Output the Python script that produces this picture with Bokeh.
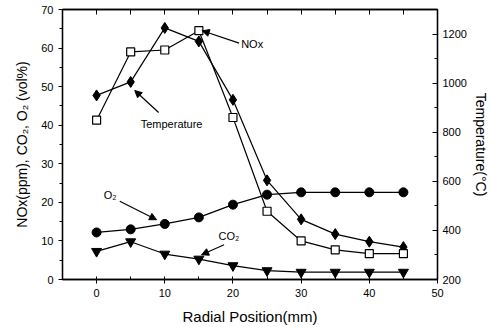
from bokeh.plotting import figure
from bokeh.models import (Range1d, LinearAxis, SingleIntervalTicker, FixedTicker, Arrow, NormalHead,
                          Label, ColumnDataSource)
from bokeh.embed import file_html
from bokeh.resources import INLINE

# ---- data ----
radial = [0, 5, 10, 15, 20, 25, 30, 35, 40, 45]
nox = [41.3, 59.0, 59.5, 64.5, 42.0, 17.7, 10.0, 7.7, 6.7, 6.7]
temperature = [950, 1005, 1225, 1170, 932, 604, 445, 385, 354, 332]
o2 = [12.2, 13.0, 14.4, 16.1, 19.4, 22.0, 22.6, 22.6, 22.6, 22.6]
co2 = [7.3, 9.8, 6.6, 5.3, 3.6, 2.3, 1.9, 1.9, 1.9, 1.9]

FONT = "Liberation Sans"

p = figure(width=491, height=327, output_backend="svg", toolbar_location=None,
           x_range=Range1d(-5, 50), y_range=Range1d(0, 70),
           min_border_left=62, min_border_right=52, min_border_top=9, min_border_bottom=45)
p.extra_y_ranges = {"temp": Range1d(200, 1300)}
p.xgrid.visible = False
p.ygrid.visible = False
p.outline_line_color = "black"
p.outline_line_width = 1.3
p.background_fill_color = "white"
p.border_fill_color = "white"

def style_axis(ax):
    ax.axis_line_color = "black"
    ax.axis_line_width = 1.3
    ax.major_tick_line_color = "black"
    ax.minor_tick_line_color = "black"
    ax.major_label_text_font = FONT
    ax.major_label_text_font_size = "11px"
    ax.major_label_text_color = "black"
    ax.axis_label_text_font = FONT
    ax.axis_label_text_font_size = "14px"
    ax.axis_label_text_font_style = "normal"
    ax.axis_label_text_color = "black"

# bottom axis
xa = p.xaxis[0]
xa.ticker = SingleIntervalTicker(interval=10, num_minor_ticks=2)
xa.axis_label = "Radial Position(mm)"
xa.major_tick_out = 4
xa.major_tick_in = 0
xa.minor_tick_out = 0
xa.minor_tick_in = 3
xa.axis_label_standoff = 8
style_axis(xa)
xa.axis_label_text_font_size = "15px"

# left axis
ya = p.yaxis[0]
ya.ticker = SingleIntervalTicker(interval=10, num_minor_ticks=2)
ya.axis_label = "NOx(ppm), CO\u2082, O\u2082 (vol%)"
ya.major_tick_out = 4
ya.major_tick_in = 0
ya.minor_tick_out = 3
ya.minor_tick_in = 0
ya.axis_label_standoff = 8
style_axis(ya)

# right axis
ra = LinearAxis(y_range_name="temp", axis_label="Temperature(\u00b0C)",
                ticker=SingleIntervalTicker(interval=200, num_minor_ticks=2))
ra.major_tick_in = 5
ra.major_tick_out = 0
ra.minor_tick_in = 3
ra.minor_tick_out = 0
ra.major_label_standoff = 5
ra.axis_label_standoff = 3
style_axis(ra)
p.add_layout(ra, "right")

# top axis (ticks only, no labels)
ta = LinearAxis(ticker=FixedTicker(ticks=[], minor_ticks=list(range(-5, 51, 5))))
ta.major_tick_in = 0
ta.major_tick_out = 0
ta.minor_tick_in = 5
ta.minor_tick_out = 0
style_axis(ta)
p.add_layout(ta, "above")

src = ColumnDataSource(dict(x=radial, nox=nox, t=temperature, o2=o2, co2=co2))

# temperature
p.line("x", "t", source=src, y_range_name="temp", color="black", line_width=1.2)
p.scatter("x", "t", source=src, y_range_name="temp", marker="diamond", size=11,
          fill_color="black", line_color="black")
# NOx
p.line("x", "nox", source=src, color="black", line_width=1.2)
p.scatter("x", "nox", source=src, marker="square", size=8,
          fill_color="white", line_color="black", line_width=1.2)
# O2
p.line("x", "o2", source=src, color="black", line_width=1.2)
p.scatter("x", "o2", source=src, marker="circle", size=9,
          fill_color="black", line_color="black")
# CO2
p.line("x", "co2", source=src, color="black", line_width=1.2)
p.scatter("x", "co2", source=src, marker="inverted_triangle", size=10,
          fill_color="black", line_color="black")

# annotations (data units)
ann = [
    ("NOx", 21.2, 61.0, "left", (20.9, 61.3, 15.5, 64.5)),
    ("Temperature", 11.0, 40.3, "center", (9.1, 43.3, 5.6, 49.0)),
    ("O\u2082", 2.0, 21.8, "center", (3.4, 20.3, 8.8, 15.5)),
    ("CO\u2082", 19.4, 11.3, "center", (18.7, 9.0, 15.4, 6.4)),
]
for txt, tx, ty, align, (x0, y0, x1, y1) in ann:
    p.add_layout(Label(x=tx, y=ty, text=txt, text_font=FONT, text_font_size="11px",
                       text_align=align, text_baseline="middle", text_color="black"))
    p.add_layout(Arrow(end=NormalHead(size=7, fill_color="black", line_color="black"),
                       x_start=x0, y_start=y0, x_end=x1, y_end=y1,
                       line_color="black", line_width=1.2))

open("out.html", "w").write(file_html(p, INLINE))
